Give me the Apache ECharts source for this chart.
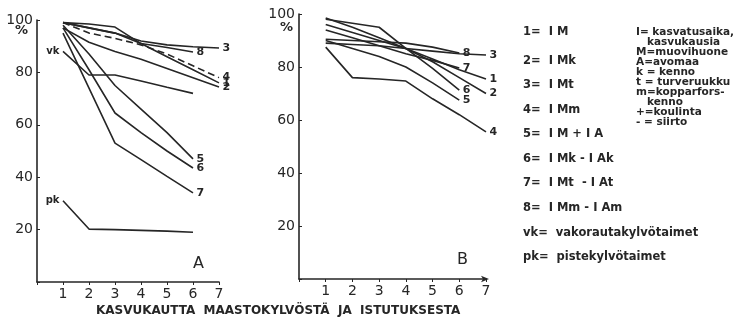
<!DOCTYPE html>
<html><head><meta charset="utf-8">
<script src="https://cdn.jsdelivr.net/npm/echarts@6/dist/echarts.min.js"></script>
<style>html,body{margin:0;padding:0;background:#fff}#c{width:741px;height:324px}</style>
</head><body><div id="c"></div>
<script>
// ---- data ----
const xValues = [1, 2, 3, 4, 5, 6, 7];
const xTickLabels = ['1', '2', '3', '4', '5', '6', '7'];
const yTickLabels = ['20', '40', '60', '80', '100'];
// Panel A
const a1 = [99, 97, 95, 91, 86, 81, 76];
const a2 = [97, 91.5, 88, 85, 81.5, 78, 74.4];
const a3 = [99, 97, 95, 92, 90.5, 89.8, 89.3];
const a4 = [99, 95, 93, 90.5, 87, 82.5, 78];
const a5 = [98, 87, 75, 66, 57, 47];
const a6 = [97, 81, 64.5, 57, 50, 43.5];
const a7 = [95, 74, 53, 46.7, 40.3, 34];
const a8 = [99, 98.5, 97.3, 91, 89.5, 87.8];
const aVk = [88, 79, 79, 76.7, 74.3, 72];
const aPk = [31, 20.2, 20, 19.7, 19.4, 19];
// Panel B
const b1 = [96, 93, 90, 87, 83, 79, 75.5];
const b2 = [98.5, 95, 91, 87, 82, 76, 70];
const b3 = [89, 88.5, 88, 87, 86, 85, 84.5];
const b4 = [87.5, 76, 75.5, 74.7, 68, 62, 55.5];
const b5 = [90, 87, 84, 80, 74, 67.5];
const b6 = [98, 96.5, 95, 87, 79.5, 71.3];
const b7 = [94, 91, 88, 85, 82.5, 79.6];
const b8 = [90.5, 90, 89.5, 89, 87.5, 85.3];
// legend texts
const legendLeft = ['1=  I M', '2=  I Mk', '3=  I Mt', '4=  I Mm', '5=  I M + I A', '6=  I Mk - I Ak', '7=  I Mt  - I At', '8=  I Mm - I Am', 'vk=  vakorautakylvötaimet', 'pk=  pistekylvötaimet'];
const legendRight = ['I= kasvatusaika,', '   kasvukausia', 'M=muovihuone', 'A=avomaa', 'k = kenno', 't = turveruukku', 'm=kopparfors-', '   kenno', '+=koulinta', '- = siirto'];
const xTitle = 'KASVUKAUTTA  MAASTOKYLVÖSTÄ  JA  ISTUTUKSESTA';

// ---- styles / positions ----
const ink = '#262626';
const FONT = 'DejaVu Sans';
const chart = echarts.init(document.getElementById('c'));

function mkSeries(name, vals, gi, lab, dashed) {
  const data = vals.map((v, i) => [xValues[i], v]);
  const li = lab.atStart ? 0 : data.length - 1;
  data[li] = {
    value: data[li],
    label: {
      show: true, formatter: name, position: lab.atStart ? 'left' : 'right',
      distance: 3, offset: lab.off || [0, 0], color: ink,
      fontFamily: FONT, fontWeight: 'bold', fontSize: lab.atStart ? 10 : 11
    }
  };
  return {
    type: 'line', name: name + gi, xAxisIndex: gi, yAxisIndex: gi, data,
    symbol: 'circle', symbolSize: 1, showSymbol: true, showAllSymbol: true,
    itemStyle: { color: 'rgba(0,0,0,0)', borderWidth: 0 },
    silent: true, animation: false,
    labelLayout: { hideOverlap: false },
    lineStyle: { color: ink, width: 1.6, type: dashed ? [7, 4] : 'solid' }
  };
}

function xAxis(gi) {
  return {
    gridIndex: gi, type: 'value', min: 0, max: 7, interval: 1,
    axisLine: { show: true, lineStyle: { color: ink, width: 1.6 },
      symbol: gi === 1 ? ['none', 'arrow'] : ['none', 'none'], symbolSize: [5, 8], symbolOffset: [0, 3] },
    axisTick: { show: true, length: 3, lineStyle: { color: ink } },
    splitLine: { show: false },
    axisLabel: { margin: 5, color: ink, fontFamily: FONT, fontSize: 14,
      formatter: v => (v >= 1 ? xTickLabels[v - 1] : '') }
  };
}
function yAxis(gi) {
  return {
    gridIndex: gi, type: 'value', min: 0, max: 100, interval: 20,
    axisLine: { show: true, lineStyle: { color: ink, width: 1.6 } },
    axisTick: { show: true, length: 3, inside: true, lineStyle: { color: ink } },
    splitLine: { show: false },
    axisLabel: { margin: 4, color: ink, fontFamily: FONT, fontSize: 14,
      formatter: v => (v >= 20 ? yTickLabels[v / 20 - 1] : '') }
  };
}

const series = [
  mkSeries('1', a1, 0, { off: [-2, 5] }),
  mkSeries('2', a2, 0, { off: [-1, 10] }),
  mkSeries('3', a3, 0, { off: [0, -1] }),
  mkSeries('4', a4, 0, { off: [2, -2] }, true),
  mkSeries('5', a5, 0, { off: [-3, -2] }),
  mkSeries('6', a6, 0, { off: [-2, 2] }),
  mkSeries('7', a7, 0, { off: [-1, 0] }),
  mkSeries('8', a8, 0, { off: [-2, 4] }),
  mkSeries('vk', aVk, 0, { atStart: true, off: [-4, -1] }),
  mkSeries('pk', aPk, 0, { atStart: true, off: [-4, -1] }),
  mkSeries('1', b1, 1, { off: [-6, 1] }),
  mkSeries('2', b2, 1, { off: [-1, 5] }),
  mkSeries('3', b3, 1, { off: [-2, 0] }),
  mkSeries('4', b4, 1, { off: [-1, 1] }),
  mkSeries('5', b5, 1, { off: [-4, 4] }),
  mkSeries('6', b6, 1, { off: [-5, 2] }),
  mkSeries('7', b7, 1, { off: [-8, 0] }),
  mkSeries('8', b8, 1, { off: [-4, -3] })
];

const graphics = [];
function txt(x, y, s, size, bold, align) {
  graphics.push({ type: 'text', left: x, top: y, silent: true,
    style: { text: s, fill: ink, fontFamily: FONT, fontSize: size,
      fontWeight: bold ? 'bold' : 'normal', textAlign: align || 'left' } });
}
txt(15, 24, '%', 13, true);
txt(280, 21, '%', 13, true);
txt(193, 256, 'A', 16, false);
txt(457, 252, 'B', 16, false);
const leftRows = [26, 55, 79, 104, 128, 153, 177, 202, 227, 251];
legendLeft.forEach((s, i) => txt(523, leftRows[i], s, 11.5, true));
legendRight.forEach((s, i) => txt(636, 27 + i * 10, s, 10.5, true));
txt(96, 305, xTitle, 12, true);

chart.setOption({
  animation: false,
  backgroundColor: '#fff',
  grid: [
    { left: 37, top: 20, width: 182, height: 262 },
    { left: 299, top: 14, width: 187, height: 265 }
  ],
  xAxis: [xAxis(0), xAxis(1)],
  yAxis: [yAxis(0), yAxis(1)],
  series,
  graphic: graphics
});
</script>
</body></html>
